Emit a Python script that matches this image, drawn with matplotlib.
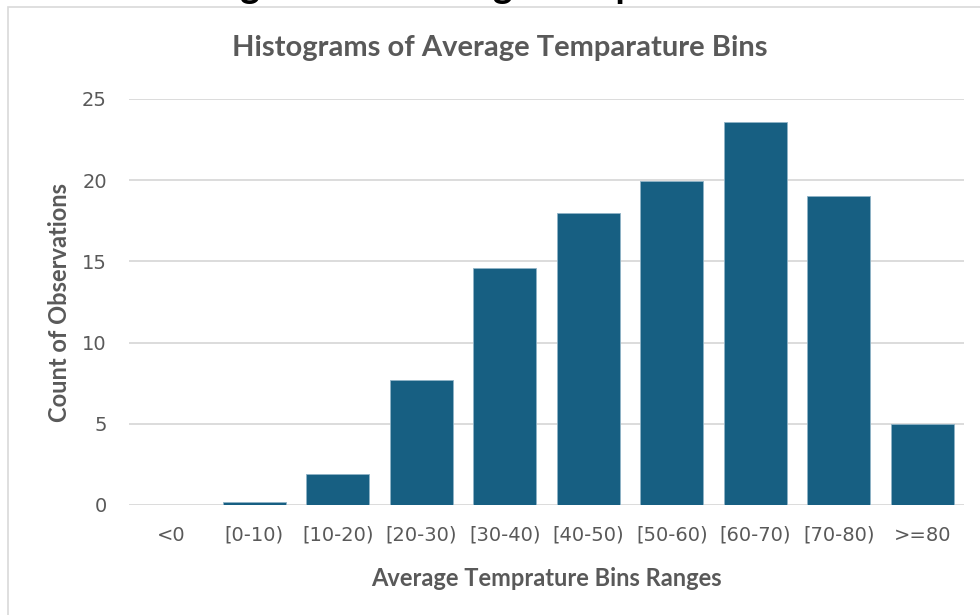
import matplotlib.pyplot as plt
from matplotlib.patches import Rectangle

# данные гистограммы
bins = ['<0', '[0-10)', '[10-20)', '[20-30)', '[30-40)', '[40-50)',
        '[50-60)', '[60-70)', '[70-80)', '>=80']
counts = [0, 0.2, 1.9, 7.7, 14.6, 18.0, 19.95, 23.6, 19.0, 5.0]
yticks = [0, 5, 10, 15, 20, 25]

bar_color = '#175F82'
text_color = '#595959'
grid_color = '#D9D9D9'
narrow = ['Liberation Sans Narrow', 'DejaVu Sans']
bold = ['Lato', 'DejaVu Sans']

W, H = 980, 615
fig = plt.figure(figsize=(W / 100, H / 100), dpi=100)
ax = fig.add_axes([129 / W, 110 / H, (964 - 129) / W, (505 - 99) / H])

# рамка области диаграммы (обрезана справа и снизу)
fig.patches.append(Rectangle((8 / W, -0.1), 1.2, (H - 7) / H + 0.1,
                             transform=fig.transFigure, fill=False,
                             edgecolor=grid_color, linewidth=1.2))

# обрезанный заголовок сверху
fig.text(150 / W, 1 + 2.5 / H, 'Histograms of Average Temparature Bins',
         fontsize=27, fontweight='bold', color='black', family=bold,
         ha='left', va='baseline')

x = range(len(bins))
ax.bar(x, counts, width=0.75, color=bar_color, edgecolor='#8FB3C6',
       linewidth=0.6, zorder=3)

ax.set_xlim(-0.5, len(bins) - 0.5)
ax.set_ylim(0, 25)
ax.set_yticks(yticks)
ax.set_xticks(list(x))
ax.set_xticklabels(bins)
ax.yaxis.grid(True, color=grid_color, linewidth=1.3, zorder=0)
for s in ax.spines.values():
    s.set_visible(False)
ax.tick_params(length=0, labelsize=14, labelcolor=text_color)
ax.tick_params(axis='y', pad=16)
ax.tick_params(axis='x', pad=15)
for lab in ax.get_xticklabels() + ax.get_yticklabels():
    lab.set_family(narrow)

# заголовок по центру рисунка
fig.text(500 / W, 1 - 48 / H, 'Histograms of Average Temparature Bins',
         fontsize=21, fontweight='bold', color=text_color, family=bold,
         ha='center', va='center')
ax.set_xlabel('Average Temprature Bins Ranges', fontsize=17,
              fontweight='bold', color=text_color, family=bold, labelpad=16)
ax.set_ylabel('Count of Observations', fontsize=17, fontweight='bold',
              color=text_color, family=bold, labelpad=8)

fig.savefig('out.png', dpi=100)
